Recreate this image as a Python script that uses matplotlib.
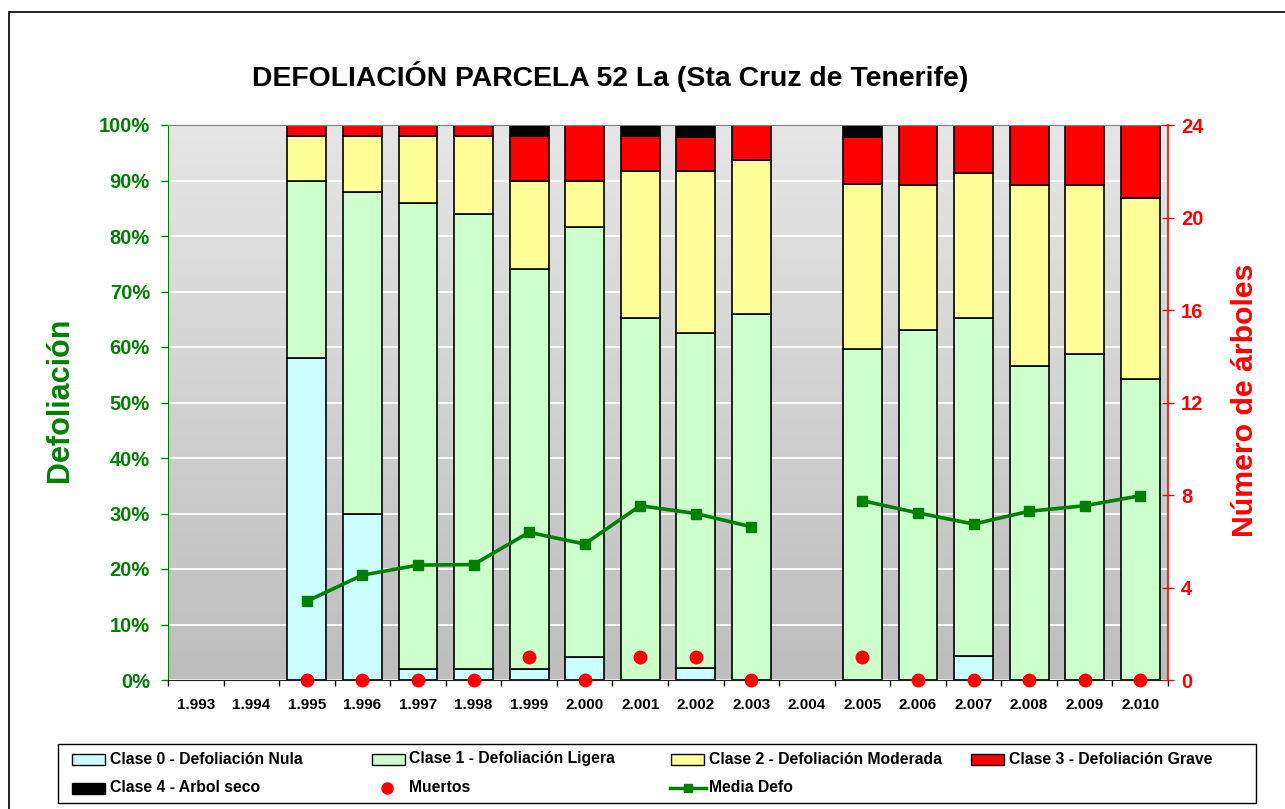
"""Defoliación parcela 52 La: barras apiladas por clase + media y muertos."""

import numpy as np
import matplotlib

matplotlib.use("Agg")
import matplotlib.pyplot as plt
from matplotlib.colors import LinearSegmentedColormap
from matplotlib.patches import Rectangle
from matplotlib.lines import Line2D

plt.rcParams["font.family"] = ["Liberation Sans", "DejaVu Sans"]
plt.rcParams["font.weight"] = "bold"

nan = np.nan

years = ["1.993", "1.994", "1.995", "1.996", "1.997", "1.998", "1.999", "2.000", "2.001",
         "2.002", "2.003", "2.004", "2.005", "2.006", "2.007", "2.008", "2.009", "2.010"]

# porcentaje de árboles por clase
clase0 = [0, 0, 58, 30, 2, 2, 2, 4.1, 0, 2.1, 0, 0, 0, 0, 4.3, 0, 0, 0]
clase1 = [0, 0, 32, 58, 84, 82, 72, 77.6, 65.3, 60.4, 66.0, 0, 59.6, 63.0, 60.9, 56.5, 58.7, 54.3]
clase2 = [0, 0, 8, 10, 12, 14, 16, 8.2, 26.5, 29.2, 27.7, 0, 29.8, 26.1, 26.1, 32.6, 30.4, 32.6]
clase3 = [0, 0, 2, 2, 2, 2, 8, 10.2, 6.2, 6.2, 6.3, 0, 8.5, 10.9, 8.7, 10.9, 10.9, 13.1]
clase4 = [0, 0, 0, 0, 0, 0, 2, 0, 2.0, 2.1, 0, 0, 2.1, 0, 0, 0, 0, 0]

media_defo = [nan, nan, 14.2, 18.9, 20.7, 20.8, 26.6, 24.5, 31.4, 30.0, 27.6, nan,
              32.3, 30.1, 28.1, 30.4, 31.4, 33.2]
muertos = [nan, nan, 0, 0, 0, 0, 1, 0, 1, 1, 0, nan, 1, 0, 0, 0, 0, 0]

clases = [
    ("Clase 0 - Defoliación Nula", clase0, "#CCFFFF"),
    ("Clase 1 - Defoliación Ligera", clase1, "#CCFFCC"),
    ("Clase 2 - Defoliación Moderada", clase2, "#FFFF99"),
    ("Clase 3 - Defoliación Grave", clase3, "#FF0000"),
    ("Clase 4 - Arbol seco", clase4, "#000000"),
]

GREEN = "#008000"
RED = "#FF0000"
W, H = 1285, 809


def fx(x):
    return x / W


def fy(y):
    return 1 - y / H


fig = plt.figure(figsize=(W / 100, H / 100), dpi=100)
ax = fig.add_axes([fx(168), fy(680), fx(1168) - fx(168), fy(125) - fy(680)])

# fondo degradado del área de trazado
grad = np.linspace(0, 1, 256).reshape(-1, 1)
cmap = LinearSegmentedColormap.from_list("fondo", ["#e6e6e6", "#bdbdbd"])
ax.imshow(grad, extent=[0, 1, 0, 1], transform=ax.transAxes, cmap=cmap,
          aspect="auto", zorder=-1)

x = np.arange(len(years))
bottom = np.zeros(len(years))
for name, vals, color in clases:
    h = np.asarray(vals, dtype=float)
    m = h > 0
    ax.bar(x[m], h[m], bottom=bottom[m], width=0.7, color=color,
           edgecolor="black", linewidth=1.2, zorder=2)
    bottom += h

ax.plot(x, media_defo, color=GREEN, lw=2.6, marker="s", ms=6.5, zorder=4)

ax.set_xlim(-0.5, len(years) - 0.5)
ax.set_ylim(0, 100)
ax.set_yticks(np.arange(0, 101, 10))
ax.set_yticklabels([f"{v}%" for v in range(0, 101, 10)])
ax.yaxis.grid(True, color="white", lw=1.3)
ax.set_axisbelow(True)

ax.set_xticks(x)
ax.set_xticklabels(years)
ax.set_xticks(np.arange(-0.5, len(years), 1), minor=True)
ax.tick_params(axis="x", which="major", length=0, pad=13, labelsize=11)
ax.tick_params(axis="x", which="minor", length=4, width=1, color="black")
ax.tick_params(axis="y", length=5, width=1, color=GREEN, labelcolor=GREEN,
               labelsize=14.5, pad=8)

ax.spines["left"].set_color(GREEN)
ax.spines["top"].set_color("#808080")
ax.spines["right"].set_visible(False)
ax.spines["bottom"].set_color("#202020")

# eje secundario: número de árboles
ax2 = ax.twinx()
ax2.set_ylim(0, 24)
ax2.set_yticks(np.arange(0, 25, 4))
ax2.plot(x, muertos, "o", color=RED, ms=9, clip_on=False, zorder=5)
ax2.tick_params(axis="y", direction="inout", length=9, width=1, color=RED,
                labelcolor=RED, labelsize=14.5, pad=5)
ax2.spines["right"].set_color(RED)
ax2.spines["right"].set_linewidth(1.2)
for s in ("left", "top", "bottom"):
    ax2.spines[s].set_visible(False)

# textos
fig.text(fx(610), fy(77), "DEFOLIACIÓN PARCELA 52 La (Sta Cruz de Tenerife)",
         ha="center", va="center", fontsize=20.4, fontweight="bold")
fig.text(fx(60), fy(400), "Defoliación", rotation=90, ha="center", va="center",
         fontsize=22, color=GREEN, fontweight="bold")
fig.text(fx(1245), fy(400), "Número de árboles", rotation=90, ha="center", va="center",
         fontsize=21.8, color=RED, fontweight="bold")

# marco del gráfico
fig.add_artist(Rectangle((fx(9), fy(830)), fx(1300) - fx(9), fy(12) - fy(830),
                         transform=fig.transFigure, fill=False, edgecolor="black", lw=1.2))

# leyenda
fig.add_artist(Rectangle((fx(58), fy(803)), fx(1256) - fx(58), fy(744) - fy(803),
                         transform=fig.transFigure, facecolor="white",
                         edgecolor="black", lw=1))

row_y = [759, 788]
entries = [
    ("patch", clases[0][2], clases[0][0], 72, 110, 0),
    ("patch", clases[1][2], clases[1][0], 372, 409, 0),
    ("patch", clases[2][2], clases[2][0], 671, 709, 0),
    ("patch", clases[3][2], clases[3][0], 971, 1009, 0),
    ("patch", clases[4][2], clases[4][0], 72, 110, 1),
    ("dot", RED, "Muertos", 387, 409, 1),
    ("line", GREEN, "Media Defo", 670, 709, 1),
]
for kind, color, label, hx, tx, r in entries:
    yc = row_y[r]
    if kind == "patch":
        fig.add_artist(Rectangle((fx(hx), fy(yc + 5.5)), fx(33), 11 / H,
                                 transform=fig.transFigure, facecolor=color,
                                 edgecolor="black", lw=1))
    elif kind == "dot":
        fig.add_artist(Line2D([fx(hx)], [fy(yc)], transform=fig.transFigure,
                              marker="o", ms=8, color=color, ls="none"))
    else:
        fig.add_artist(Line2D([fx(hx), fx(hx + 36)], [fy(yc), fy(yc)],
                              transform=fig.transFigure, color=color, lw=2.5))
        fig.add_artist(Line2D([fx(hx + 18)], [fy(yc)], transform=fig.transFigure,
                              marker="s", ms=6, color=color, ls="none"))
    fig.text(fx(tx), fy(yc), label, ha="left", va="center", fontsize=11.3,
             fontweight="bold")

fig.savefig("out.png", dpi=100)
plt.close(fig)
